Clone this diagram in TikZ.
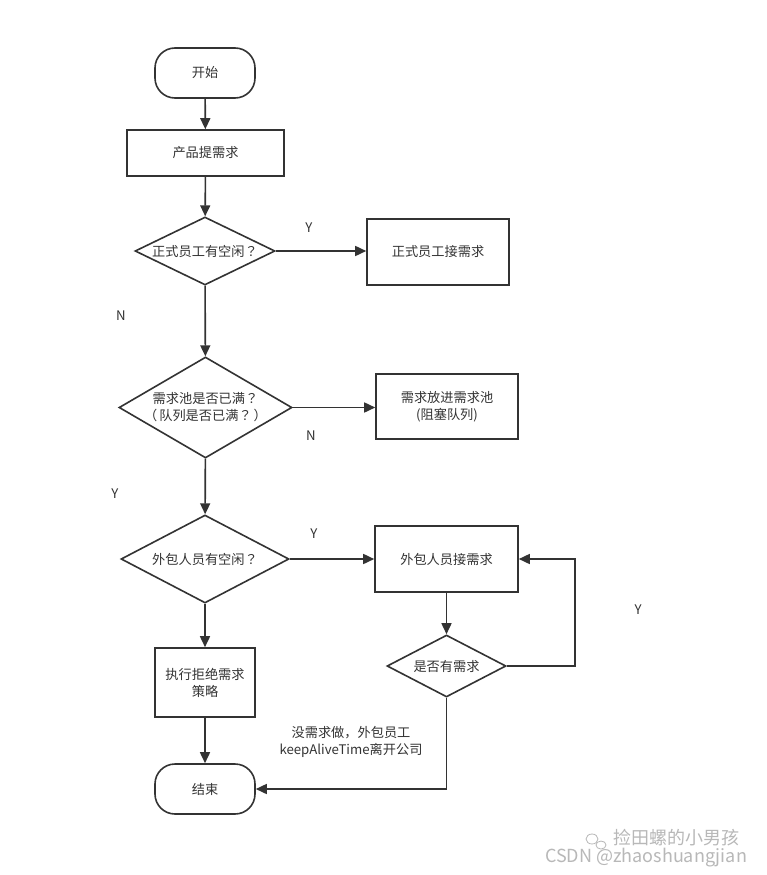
\documentclass[tikz,border=0pt]{standalone}
\usepackage{fontspec}
\setmainfont{Noto Sans CJK SC}
\newfontfamily\tcfont{Noto Sans CJK TC}
\newcommand{\fq}{{\tcfont ？}}
\newcommand{\flp}{{\tcfont （}\hspace{2pt}}
\newcommand{\frp}{\hspace{2pt}{\tcfont ）}}
\usetikzlibrary{shapes.geometric,arrows.meta}
\definecolor{ink}{HTML}{333333}
\definecolor{wm}{HTML}{B8B8B8}
\begin{document}
\begin{tikzpicture}[x=1pt,y=-1pt,
  every node/.style={font=\fontsize{13.2}{17}\selectfont, text=ink},
  every label/.style={font=\fontsize{13.2}{17}\selectfont, text=ink, align=center, inner sep=0pt},
  term/.style={draw=ink, line width=1.6pt, rounded corners=20pt, minimum width=100pt, minimum height=50pt, inner sep=0pt},
  proc/.style={draw=ink, line width=1.6pt, inner sep=0pt, align=center},
  dec/.style={draw=ink, line width=1.6pt, diamond, inner sep=0pt},
  lbl/.style={inner sep=0pt},
  arr/.style={draw=ink, line width=1.6pt, -{Triangle[length=11pt,width=10pt]}},
  ln/.style={draw=ink, line width=1.6pt}]
\useasboundingbox (0,0) rectangle (766,875);
\fill[white] (0,0) rectangle (766,875);
\node[term] (start) at (205,73) {开始};
\node[proc, minimum width=157pt, minimum height=46pt] (req) at (205.5,153) {产品提需求};
\node[dec, minimum width=140pt, minimum height=68pt, label={center:正式员工有空闲\fq}] (d1) at (205,251) {};
\node[proc, minimum width=142pt, minimum height=66pt] (r1) at (438,252) {正式员工接需求};
\node[dec, minimum width=173pt, minimum height=101pt, label={center:需求池是否已满\fq\\\flp 队列是否已满\fq\frp}] (d2) at (205.5,407.5) {};
\node[proc, minimum width=142pt, minimum height=65pt] (r2) at (447,406.5) {需求放进需求池\\(阻塞队列)};
\node[dec, minimum width=168pt, minimum height=88pt, label={center:外包人员有空闲\fq}] (d3) at (205,559) {};
\node[proc, minimum width=143pt, minimum height=66pt] (r3) at (446.5,559) {外包人员接需求};
\node[proc, minimum width=100pt, minimum height=69pt] (r4) at (205,682.5) {执行拒绝需求\\策略};
\node[dec, minimum width=119pt, minimum height=62pt, label={center:是否有需求}] (d4) at (446.5,666) {};
\node[term] (end) at (205,789) {结束};

\node[lbl] (ly1) at (309,228) {Y};
\node[lbl] (ln1) at (121,316) {N};
\node[lbl] (ln2) at (311,436) {N};
\node[lbl] (ly2) at (115,494) {Y};
\node[lbl] (ly3) at (314,534) {Y};
\node[lbl] (ly4) at (638,610) {Y};
\node[lbl, align=center] (note) at (351,742) {没需求做，外包员工\\keepAliveTime离开公司};

\draw[arr] (start) -- (req);
\draw[arr] (req) -- (d1);
\draw[arr] (d1.east) -- (r1.west |- d1.east);
\draw[arr] (d1) -- (d2);
\draw[arr] (d2.east) -- (r2.west |- d2.east);
\draw[arr] (d2) -- (d3);
\draw[arr] (d3.east) -- (r3.west);
\draw[arr] (d3) -- (r4);
\draw[arr] (r4) -- (end);
\draw[arr] (r3) -- (d4);
\coordinate (loop) at (575,666);
\draw[arr] (d4.east) -- (loop) |- (r3.east);
\draw[arr] (d4.south) |- (end.east);

% watermark
\draw[wm, line width=0.8pt] (592,839) ellipse (6pt and 5pt);
\draw[wm, line width=0.8pt] (601,845) ellipse (5pt and 4pt);
\node[lbl, text=wm, font=\fontsize{18}{20}\selectfont] (wm1) at (676,838) {捡田螺的小男孩};
\node[lbl, text=wm, font=\fontsize{18}{20}\selectfont] (wm2) at (646,858) {CSDN @zhaoshuangjian};
\end{tikzpicture}
\end{document}
